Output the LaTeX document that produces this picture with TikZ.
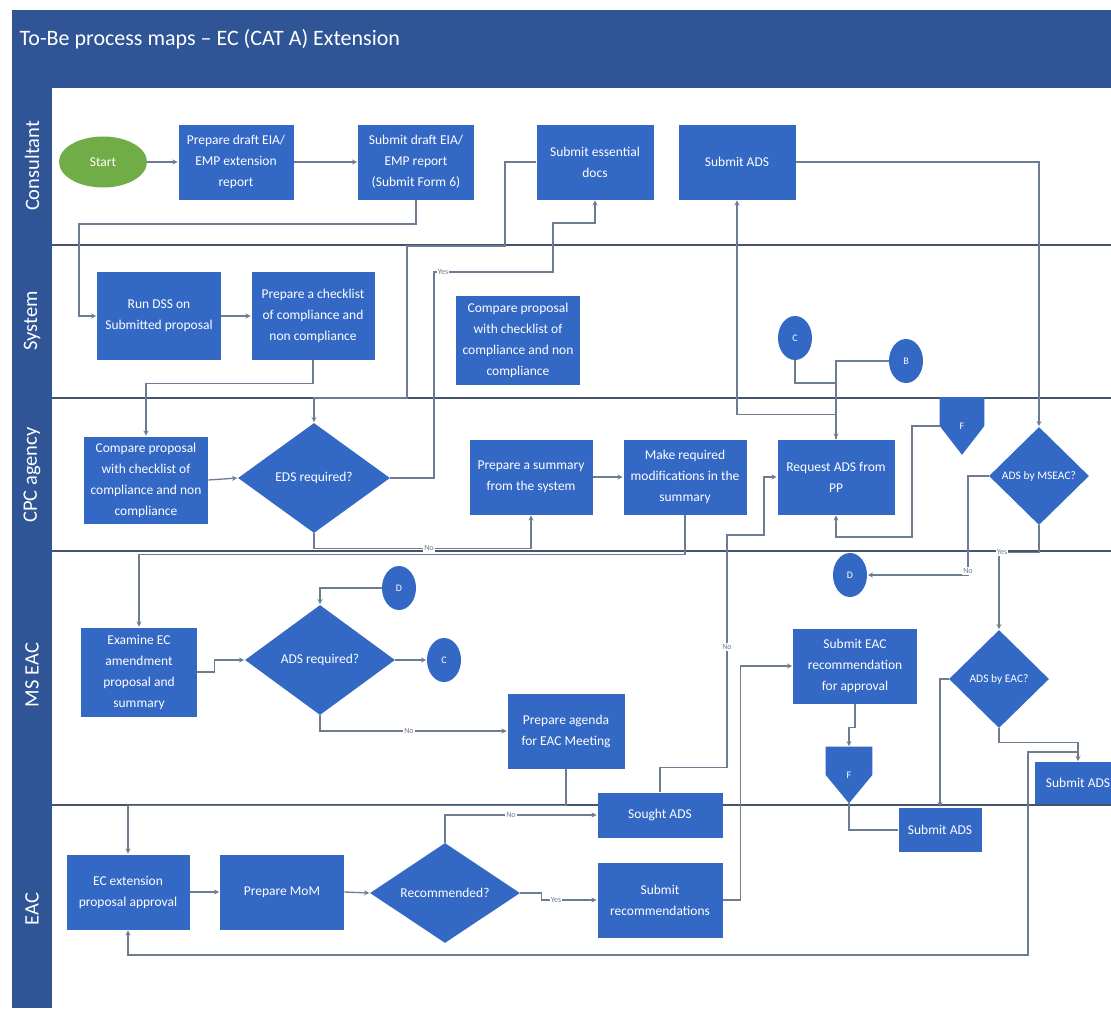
\documentclass[tikz,border=0pt]{standalone}
\usepackage{fontspec}
\setmainfont{Carlito}
\usepackage{tikz}
\usetikzlibrary{arrows}
\usetikzlibrary{shapes.geometric}

\definecolor{bandblue}{RGB}{47,85,151}
\definecolor{boxblue}{RGB}{52,104,197}
\definecolor{startgreen}{RGB}{112,173,71}
\definecolor{laneline}{RGB}{68,84,106}
\definecolor{flowgray}{RGB}{110,124,146}

\begin{document}
\begin{tikzpicture}[
            x = 1pt, y = -1pt, % y runs downwards
            > = stealth, % arrow head style
            shorten > = 0.5pt,
            semithick
        ]

        \tikzstyle{task}=[
            rectangle,
            draw = none,
            fill = boxblue,
            text = white,
            align = center,
            inner sep = 2pt,
            minimum width = 120pt,
            minimum height = 75pt,
            font = \fontsize{13.5}{21}\selectfont
        ]
        \tikzstyle{decision}=[
            diamond,
            fill = boxblue,
            text = white,
            align = center,
            inner sep = 0pt,
            minimum width = 150pt,
            minimum height = 110pt,
            font = \fontsize{13.5}{16}\selectfont
        ]
        \tikzstyle{link}=[
            ellipse,
            fill = boxblue,
            text = white,
            inner sep = 0pt,
            minimum width = 34pt,
            minimum height = 44pt,
            font = \fontsize{10}{12}\selectfont
        ]
        \tikzstyle{offpage}=[
            rectangle,
            draw = none,
            inner sep = 0pt,
            minimum width = 44pt,
            minimum height = 57pt
        ]
        \tikzstyle{lanename}=[rotate = 90, text = white, font = \fontsize{20.5}{24}\selectfont]
        \tikzstyle{lane}=[draw = laneline, line width = 2.5pt]
        \tikzstyle{flow}=[draw = flowgray, line width = 1.3pt, ->]
        \tikzstyle{plain}=[draw = flowgray, line width = 1.3pt]
        \tikzstyle{answer}=[fill = white, text = flowgray, inner sep = 1pt, font = \fontsize{8}{9}\selectfont]

        \clip (0,0) rectangle (1111,1010);
        \fill[white] (0,0) rectangle (1111,1010);

% frame, title and lanes
        \fill[bandblue] (12,10) rectangle (1111,88);
        \fill[bandblue] (12,88) rectangle (52,1008);
        \node[anchor = west, text = white, font = \fontsize{22}{26}\selectfont] (TITLE) at (16,39) {To-Be process maps – EC (CAT A) Extension};

        \draw[lane] (52,245) -- (1111,245);
        \draw[lane] (52,398) -- (1111,398);
        \draw[lane] (52,551) -- (1111,551);
        \draw[lane] (52,805) -- (1111,805);

        \node[lanename] (LCON) at (32,166) {Consultant};
        \node[lanename] (LSYS) at (32,321) {System};
        \node[lanename] (LCPC) at (32,475) {CPC agency};
        \node[lanename] (LMS) at (32,675) {MS EAC};
        \node[lanename] (LEAC) at (32,909) {EAC};

% consultant lane
        \node[ellipse, fill = startgreen, text = white, minimum width = 88pt, minimum height = 51pt,
              font = \fontsize{13.5}{16}\selectfont] (START) at (103,162) {Start};
        \node[task, minimum width = 115pt] (CON1) at (236,162) {Prepare draft EIA/\\EMP extension\\report};
        \node[task, minimum width = 116pt] (CON2) at (416,162) {Submit draft EIA/\\EMP report\\(Submit Form 6)};
        \node[task, minimum width = 117pt] (CON3) at (595,162) {Submit essential\\docs};
        \node[task, minimum width = 117pt] (CON4) at (737,162) {Submit ADS};

% system lane
        \node[task, minimum width = 124pt, minimum height = 88pt] (SYS1) at (159,316) {Run DSS on\\Submitted proposal};
        \node[task, minimum width = 123pt, minimum height = 88pt] (SYS2) at (313,316) {Prepare a checklist\\of compliance and\\non compliance};
        \node[task, minimum width = 124pt, minimum height = 89pt] (SYS3) at (518,340) {Compare proposal\\with checklist of\\compliance and non\\compliance};
        \node[link] (LNK1) at (795,338) {C};
        \node[link] (LNK2) at (906,361) {B};

% CPC agency lane
        \node[task, minimum width = 124pt, minimum height = 87pt] (CPC1) at (146,480) {Compare proposal\\with checklist of\\compliance and non\\compliance};
        \node[decision, minimum width = 152pt] (CPCQ1) at (314,478) {EDS required?};
        \node[task, minimum width = 123pt] (CPC2) at (531,477) {Prepare a summary\\from the system};
        \node[task, minimum width = 123pt] (CPC3) at (685,477) {Make required\\modifications in the\\summary};
        \node[task, minimum width = 117pt] (CPC4) at (836,477) {Request ADS from\\PP};
        \node[decision, minimum width = 100pt, minimum height = 98pt, font = \fontsize{11.5}{13}\selectfont] (CPCQ2) at (1039,476) {ADS by MSEAC?};
        \node[offpage] (OFF1) at (962,426) {};
        \fill[boxblue] (OFF1.north west) -- (OFF1.north east) -- (OFF1.east) -- (OFF1.south) -- (OFF1.west) -- cycle;
        \node[text = white, font = \fontsize{10}{12}\selectfont] (OFF1L) at (OFF1.center) {F};

% MS EAC lane
        \node[task, minimum width = 116pt, minimum height = 89pt] (MS1) at (139,672) {Examine EC\\amendment\\proposal and\\summary};
        \node[decision] (MSQ1) at (320,660) {ADS required?};
        \node[link] (LNK4) at (399,588) {D};
        \node[link] (LNK5) at (444,660) {C};
        \node[link] (LNK3) at (850,575) {D};
        \node[task, minimum width = 117pt] (MS2) at (566,731) {Prepare agenda\\for EAC Meeting};
        \node[task, minimum width = 124pt] (MS3) at (855,666) {Submit EAC\\recommendation\\for approval};
        \node[decision, minimum width = 100pt, minimum height = 98pt, font = \fontsize{11.5}{13}\selectfont] (MSQ2) at (999,679) {ADS by EAC?};
        \node[offpage, minimum width = 46pt, minimum height = 56pt] (OFF2) at (849,775) {};
        \fill[boxblue] (OFF2.north west) -- (OFF2.north east) -- (OFF2.east) -- (OFF2.south) -- (OFF2.west) -- cycle;
        \node[text = white, font = \fontsize{10}{12}\selectfont] (OFF2L) at (OFF2.center) {F};
        \node[task, minimum width = 86pt, minimum height = 42pt] (MS4) at (1078,783) {Submit ADS};

% EAC lane
        \node[task, minimum width = 123pt] (EAC1) at (128,892) {EC extension\\proposal approval};
        \node[task, minimum width = 124pt] (EAC2) at (282,892) {Prepare MoM};
        \node[decision, minimum height = 100pt] (EACQ1) at (445,893) {Recommended?};
        \node[task, minimum width = 125pt, minimum height = 45pt] (EAC3) at (660,815) {Sought ADS};
        \node[task, minimum width = 125pt] (EAC4) at (660,900) {Submit\\recommendations};
        \node[task, minimum width = 83pt, minimum height = 44pt] (EAC5) at (940,830) {Submit ADS};

% connectors
        \coordinate (J1) at (836,383);
        \coordinate (J2) at (1078,752);

        \draw[flow] (START.east) -- (CON1.west);
        \draw[flow] (CON1.east) -- (CON2.west);
        \draw[flow] (CON2.south) |- (79,224) |- (SYS1.west);
        \draw[flow] (SYS1.east) -- (SYS2.west);
        \draw[flow] (SYS2.south) -- ++(0,23) -| (CPC1.north);
        \draw[flow] (CPC1.east) -- (CPCQ1.west);
        \draw[flow] (CPCQ1.east) -| (434,272) -| (553,223) -| (CON3.south);
        \draw[flow] (CON3.west) -| (505,246) -| (407,398) -| (CPCQ1.north);
        \draw[flow] (CPCQ1.south) -- ++(0,15) -| (CPC2.south);
        \draw[flow] (CPC2.east) -- (CPC3.west);
        \draw[flow] (CPC3.south) -- ++(0,40) -| (MS1.north);
        \draw[flow] (CON4.east) -| (CPCQ2.north);
        \draw[plain] (LNK1.south) |- (J1);
        \draw[flow] (LNK2.west) -| (CPC4.north);
        \draw[flow] (CPC4.north) -- ++(0,-25) -| (CON4.south);
        \draw[flow] (OFF1.west) -| (912,537) -| (CPC4.south);
        \draw[flow] (CPCQ2.west) -| (968,575) -- (LNK3.east);
        \draw[flow] (CPCQ2.south) -- ++(0,27) -| (MSQ2.north);
        \draw[flow] (EAC3.north) -- ++(0,-25) -| (727,535) -| (764,477) -- (CPC4.west);

        \draw[flow] (MS1.east) -- ++(17,0) |- (MSQ1.west);
        \draw[flow] (LNK4.west) -| (MSQ1.north);
        \draw[flow] (MSQ1.east) -- (LNK5.west);
        \draw[flow] (MSQ1.south) |- (MS2.west);
        \draw[flow] (MS2.south) -- ++(0,37) -| (EAC1.north);
        \draw[flow] (MS3.south) -- ++(0,24) -| (OFF2.north);
        \draw[plain] (OFF2.south) |- (EAC5.west);
        \draw[flow] (MSQ2.west) -| (EAC5.north);
        \draw[flow] (MSQ2.south) -- ++(0,14) -| (MS4.north);
        \draw[flow] (J2) -| (1028,955) -| (EAC1.south);

        \draw[flow] (EAC1.east) -- (EAC2.west);
        \draw[flow] (EAC2.east) -- (EACQ1.west);
        \draw[flow] (EACQ1.north) |- (EAC3.west);
        \draw[flow] (EACQ1.east) -- ++(21,0) |- (EAC4.west);
        \draw[flow] (EAC4.east) -- ++(18,0) |- (MS3.west);

% branch labels
        \node[answer] (ANS1) at (443,272) {Yes};
        \node[answer] (ANS2) at (429,548) {No};
        \node[answer] (ANS3) at (968,571) {No};
        \node[answer] (ANS4) at (1002,552) {Yes};
        \node[answer] (ANS5) at (727,647) {No};
        \node[answer] (ANS6) at (409,731) {No};
        \node[answer] (ANS7) at (511,815) {No};
        \node[answer] (ANS8) at (556,900) {Yes};

  \end{tikzpicture}
\end{document}
